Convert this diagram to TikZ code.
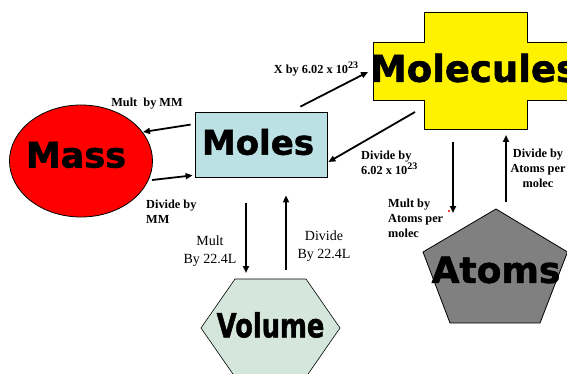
\documentclass[tikz,border=0pt]{standalone}
\usepackage{fontspec}
\setmainfont{Liberation Serif}
\newfontfamily\bigfont[FakeBold=1.6]{DejaVu Sans Bold}
\usetikzlibrary{arrows.meta,calc,shapes.geometric}
\definecolor{molesblue}{RGB}{188,225,229}
\definecolor{volgreen}{RGB}{213,231,221}
\definecolor{atomgray}{RGB}{128,128,128}
\newcommand{\tentwothree}{10\raisebox{0.45em}{\fontsize{10}{10}\selectfont 23}}
\begin{document}
\begin{tikzpicture}[x=1pt,y=-1pt,
  conv/.style={line width=1.8pt,-{Triangle[length=7pt,width=6pt]}},
  lbl/.style={font=\fontsize{12.3}{15}\selectfont\bfseries, inner sep=0},
  lblr/.style={font=\fontsize{14}{18}\selectfont, align=center, inner sep=0},
  big/.style={font=\bigfont\fontsize{34}{34}\selectfont, inner sep=0},
  outline/.style={draw=black, line width=0.8pt}]
\useasboundingbox (0,0) rectangle (567,374);
\clip (0,0) rectangle (567,374);

% Mass
\node[ellipse, fill=red, outline, minimum width=143, minimum height=112, inner sep=0] (mass) at (81,161) {};
\node[big, font=\bigfont\fontsize{35}{35}\selectfont] (masst) at (76,155) {Mass};

% Moles
\node[rectangle, fill=molesblue, outline, minimum width=132, minimum height=65, inner sep=0] (moles) at (261,144.5) {};
\node[big] (molest) at (258,142) {Moles};

% Molecules (cross)
\coordinate (mc) at (475.5,70.5);
\filldraw[fill=yellow, outline, shift={(mc)}]
  (-51.5,-58.5) -- (51.5,-58.5) -- (51.5,-28.5) -- (102.5,-28.5) -- (102.5,29.5)
  -- (51.5,29.5) -- (51.5,58.5) -- (-51.5,58.5) -- (-51.5,29.5) -- (-102.5,29.5)
  -- (-102.5,-28.5) -- (-51.5,-28.5) -- cycle;
\node[big, font=\bigfont\fontsize{37}{37}\selectfont] (molecules) at (474,68) {Molecules};

% Atoms (pentagon)
\coordinate (ac) at (495.5,272);
\filldraw[fill=atomgray, outline, shift={(ac)}]
  (0.5,-63) -- (72,-20) -- (44.5,51) -- (-45.5,51) -- (-72.5,-20) -- cycle;
\node[big, font=\bigfont\fontsize{36}{36}\selectfont] (atoms) at (496,270) {Atoms};

% Volume (hexagon)
\coordinate (vc) at (270.5,328);
\filldraw[fill=volgreen, draw=black, line width=0.6pt, shift={(vc)}]
  (-35.5,-49) -- (35.5,-49) -- (69.5,0) -- (35.5,49) -- (-35.5,49) -- (-69.5,0) -- cycle;
\node[big, font=\bigfont\fontsize{33}{33}\selectfont] (volume) at (270.5,325) {\scalebox{0.78}[1]{Volume}};

% connectors
\draw[conv] ($(moles.north west)+(-4,13)$) -- ($(mass.center)+(62,-29)$);
\draw[conv] ($(mass.center)+(71,19)$) -- ($(moles.south west)+(-2,-2)$);
\draw[conv] ($(moles.north east)+(-27,-5)$) -- ($(mc)+(-107.5,1.5)$);
\draw[conv] ($(mc)+(-60.5,41.5)$) -- ($(moles.east)+(1,17.5)$);
\draw[conv] ($(mc)+(-22.5,71.5)$) -- ($(ac)+(-42.5,-59)$);
\draw[conv] ($(ac)+(10.5,-70)$) -- ($(mc)+(30.5,64.5)$);
\draw[conv] ($(moles.south)+(-15,26)$) -- ($(vc)+(-24.5,-55)$);
\draw[conv] ($(vc)+(15.5,-58)$) -- ($(moles.south)+(25,18)$);

% labels
\node[lbl] (l1) at (147,104) {Mult\ \ by MM};
\node[lbl, align=left, anchor=north west] (l2) at (146,200) {Divide by\\MM};
\node[lbl] (l3) at (316,69) {X by 6.02 x \tentwothree};
\node[lbl, align=left, anchor=west] (l4) at (361,163) {Divide by\\6.02 x \tentwothree};
\node[lbl, align=left, anchor=west] (l5) at (388,218) {Mult by\\Atoms per\\molec};
\node[lbl, align=center] (l6) at (538,168) {Divide by\\Atoms per\\molec};
\node[lblr] (l7) at (210,251) {Mult\\By 22.4L};
\node[lblr] (l8) at (324,246) {Divide\\By 22.4L};
\fill[red] (449,211) circle (1.2);
\end{tikzpicture}
\end{document}
